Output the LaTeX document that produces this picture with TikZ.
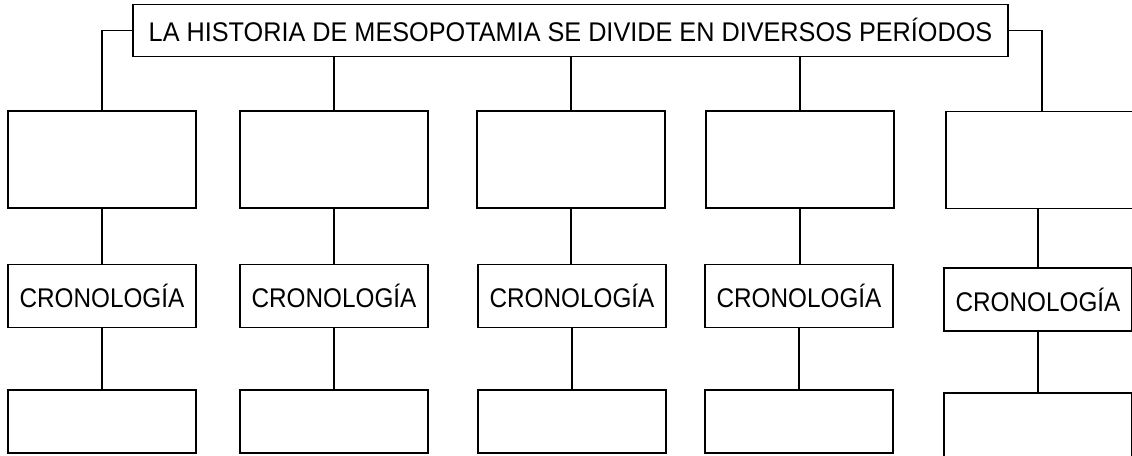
\documentclass[tikz,border=0pt]{standalone}
\usepackage{fontspec}
\setmainfont[FakeStretch=0.9]{Liberation Sans}
\newfontfamily\titlefont[FakeStretch=0.935]{Liberation Sans}
\begin{document}
\begin{tikzpicture}[x=1pt,y=-1pt,
  box/.style={draw, line width=1.1pt, minimum width=188pt, inner sep=0pt, font=\fontsize{27}{30}\selectfont},
  bigbox/.style={box, minimum height=97pt},
  cronbox/.style={box, minimum height=63pt},
  lowbox/.style={box, minimum height=63pt},
  titlebox/.style={draw, line width=1.1pt, minimum width=875pt, minimum height=52.5pt, inner sep=0pt, font=\titlefont\fontsize{27}{30}\selectfont},
  link/.style={line width=1.1pt}]
\useasboundingbox (0,0) rectangle (1132,455);
\node[titlebox] (t) at (570.5,30.3) {LA HISTORIA DE MESOPOTAMIA SE DIVIDE EN DIVERSOS PERÍODOS};
% row 1
\node[bigbox] (a1) at (102,159.5) {};
\node[bigbox] (a2) at (334,159.5) {};
\node[bigbox] (a3) at (571,159.5) {};
\node[bigbox] (a4) at (800,159.5) {};
\node[bigbox, minimum width=192pt] (a5) at (1042,160) {};
% row 2
\node[cronbox] (b1) at (102,296) {CRONOLOGÍA};
\node[cronbox] (b2) at (334,296) {CRONOLOGÍA};
\node[cronbox] (b3) at (572,296) {CRONOLOGÍA};
\node[cronbox] (b4) at (799,296) {CRONOLOGÍA};
\node[cronbox] (b5) at (1038,299.5) {CRONOLOGÍA};
% row 3
\node[lowbox] (c1) at (102,421.5) {};
\node[lowbox] (c2) at (334,421.5) {};
\node[lowbox] (c3) at (572,421.5) {};
\node[lowbox] (c4) at (799,421.5) {};
\node[lowbox, minimum height=80pt] (c5) at (1038,433) {};
% connectors
\draw[link] (t.west) -| (a1.north);
\draw[link] (t.east) -| (a5.north);
\draw[link] (t.south -| a2.north) -- (a2.north);
\draw[link] (t.south -| a3.north) -- (a3.north);
\draw[link] (t.south -| a4.north) -- (a4.north);
\foreach \i in {1,...,4} {
  \draw[link] (a\i.south) -- (a\i.south |- b\i.north);
  \draw[link] (b\i.south) -- (b\i.south |- c\i.north);
}
\draw[link] (a5.south -| b5.north) -- (b5.north);
\draw[link] (b5.south) -- (c5.north);
\end{tikzpicture}
\end{document}
